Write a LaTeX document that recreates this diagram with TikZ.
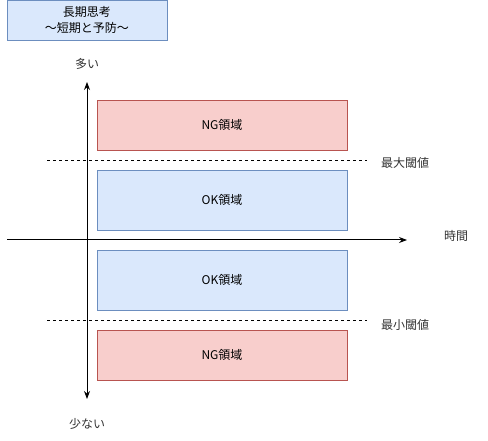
\documentclass[tikz,border=0pt]{standalone}
\usepackage{fontspec}
\setmainfont{Noto Sans CJK JP}
\usetikzlibrary{arrows.meta}

\definecolor{okfill}{HTML}{DAE8FC}
\definecolor{okline}{HTML}{6C8EBF}
\definecolor{ngfill}{HTML}{F8CECC}
\definecolor{ngline}{HTML}{B85450}

\begin{document}
\begin{tikzpicture}[
    x=1pt, y=-1pt,
    okbox/.style={rectangle, draw=okline, fill=okfill, minimum width=250pt, minimum height=60pt, align=center, font=\fontsize{12}{14}\selectfont},
    ngbox/.style={rectangle, draw=ngline, fill=ngfill, minimum width=250pt, minimum height=50pt, align=center, font=\fontsize{12}{14}\selectfont},
    titlebox/.style={rectangle, draw=okline, fill=okfill, minimum width=160pt, minimum height=39.5pt, align=center, font=\fontsize{12}{16}\selectfont},
    lbl/.style={font=\fontsize{12}{14}\selectfont, text=black!80},
    axis/.style={-{Stealth[length=8pt,width=6pt]}, line width=1pt},
    limit/.style={dashed, line width=0.8pt}
]
\useasboundingbox (0,0) rectangle (488,441);

\node[titlebox] (title) at (87,20.25) {長期思考\\〜短期と予防〜};

\node[ngbox] (ngtop) at (222,125) {NG領域};
\node[okbox] (oktop) at (222,200) {OK領域};
\node[okbox] (okbot) at (222,280) {OK領域};
\node[ngbox] (ngbot) at (222,355) {NG領域};

\node[lbl] (many) at (87,64) {多い};
\node[lbl] (few) at (87,424) {少ない};
\node[lbl] (time) at (456,236) {時間};
\node[lbl] (maxth) at (405,163) {最大閾値};
\node[lbl] (minth) at (405,325) {最小閾値};

\coordinate (ytop) at (87,82);
\coordinate (ybot) at (87,399);
\coordinate (xleft) at (7,240);
\coordinate (xright) at (407,240);
\coordinate (maxl) at (47,160);
\coordinate (maxr) at (367,160);
\coordinate (minl) at (47,320);
\coordinate (minr) at (367,320);

\draw[axis, {Stealth[length=8pt,width=6pt]}-{Stealth[length=8pt,width=6pt]}] (ytop) -- (ybot);
\draw[axis] (xleft) -- (xright);
\draw[limit] (maxl) -- (maxr);
\draw[limit] (minl) -- (minr);

\end{tikzpicture}
\end{document}
